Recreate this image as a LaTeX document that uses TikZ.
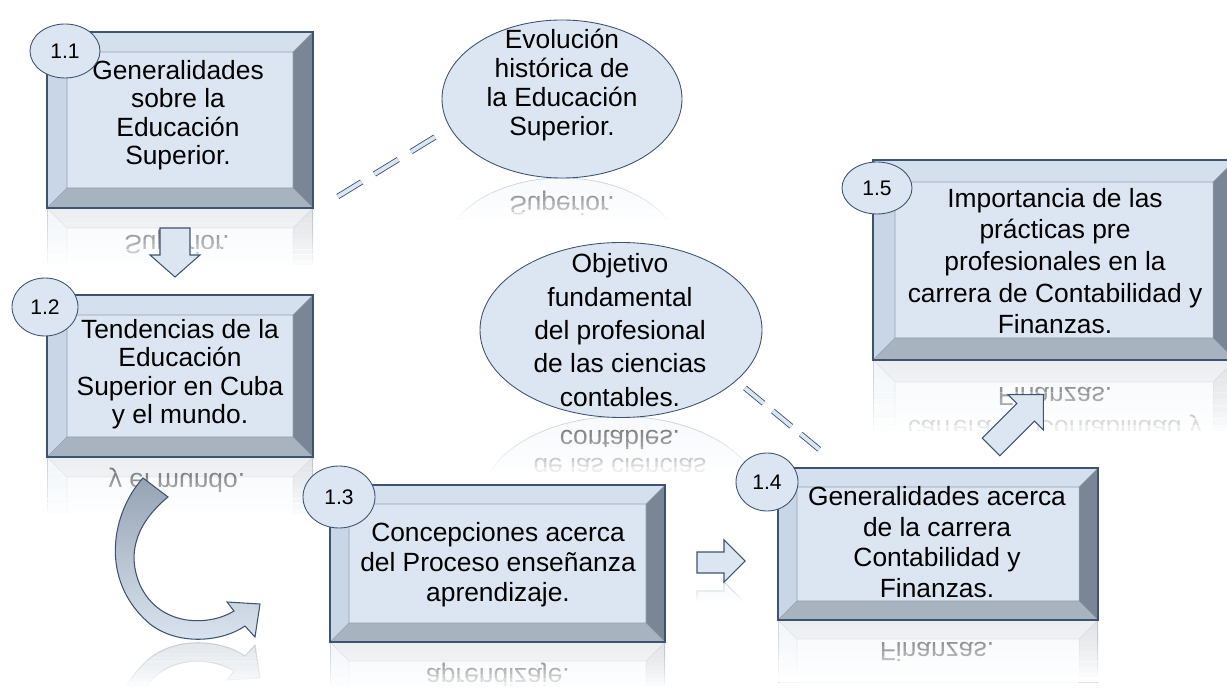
\documentclass[tikz,border=0pt]{standalone}
\usepackage{fontspec}
\setmainfont{Liberation Sans}
\usetikzlibrary{shapes.geometric}

\definecolor{face}{RGB}{220,230,242}
\definecolor{bevtopc}{RGB}{212,224,238}
\definecolor{bevleftc}{RGB}{200,214,231}
\definecolor{bevbotc}{RGB}{168,179,192}
\definecolor{bevrightc}{RGB}{122,134,149}
\definecolor{linec}{RGB}{62,84,110}
\definecolor{ribbon}{RGB}{150,163,179}

\tikzset{
  boxtext/.style={align=center, inner sep=0pt, font=\fontsize{15}{16.2}\selectfont},
  badge/.style={ellipse, draw=linec, fill=face, line width=0.5pt, inner sep=0pt,
    font=\fontsize{12}{14}\selectfont},
  bubble/.style={ellipse, draw=linec, fill=face, line width=0.5pt, inner sep=0pt},
  blockarrow/.style={draw=linec, fill=face, line width=0.6pt, line join=miter},
  dashlink/.style={draw=linec, line width=0.5pt, double=face, double distance=2.2pt},
  ghost/.style={boxtext, text opacity=0.55}
}

% bevelled box: x1, y1, x2, y2, bevel
\newcommand{\bevbox}[5]{%
  \fill[face] (#1+#5,#2+#5) rectangle (#3-#5,#4-#5);
  \fill[bevtopc] (#1,#2) -- (#3,#2) -- (#3-#5,#2+#5) -- (#1+#5,#2+#5) -- cycle;
  \fill[bevleftc] (#1,#2) -- (#1+#5,#2+#5) -- (#1+#5,#4-#5) -- (#1,#4) -- cycle;
  \fill[bevbotc] (#1,#4) -- (#1+#5,#4-#5) -- (#3-#5,#4-#5) -- (#3,#4) -- cycle;
  \fill[bevrightc] (#3,#2) -- (#3-#5,#2+#5) -- (#3-#5,#4-#5) -- (#3,#4) -- cycle;
  \draw[linec!55, line width=0.3pt] (#1+#5,#2+#5) rectangle (#3-#5,#4-#5)
    (#1,#2) -- (#1+#5,#2+#5) (#3,#2) -- (#3-#5,#2+#5)
    (#1,#4) -- (#1+#5,#4-#5) (#3,#4) -- (#3-#5,#4-#5);
  \draw[linec, line width=0.6pt] (#1,#2) rectangle (#3,#4);
}

% the bent arrow from 1.2 down to 1.3
\newcommand{\bentarrow}{%
  \draw[blockarrow, top color=ribbon, bottom color=face]
    (143,478) .. controls (112,512) and (98,580) .. (150,624)
    .. controls (178,646) and (222,642) .. (245,626)
    -- (255,637) -- (260,604) -- (227,602) -- (234,611)
    .. controls (210,626) and (160,628) .. (140,585)
    .. controls (125,550) and (140,520) .. (168,497) -- cycle;
}

% faint mirror image below a shape: x1, x2, axis, band, content
\newcommand{\mirror}[5]{%
  \begin{scope}
    \clip (#1,#3) rectangle (#2,#3+#4);
    \begin{scope}[shift={(0,2*#3)}, yscale=-1, transform shape, opacity=0.22]
      #5
    \end{scope}
  \end{scope}
  \foreach \i in {1,...,12} {
    \pgfmathsetmacro\op{(\i/12)^1.6}
    \fill[white, opacity=\op] (#1-1,{#3+#4*(\i-1)/12}) rectangle (#2+1,{#3+#4*\i/12+0.3});
  }
}

\begin{document}
\begin{tikzpicture}[x=0.2mm,y=-0.2mm]
\useasboundingbox (0,0) rectangle (1227,690);

% reflections
\mirror{47}{313}{208}{62}{\bevbox{47}{32}{313}{208}{20}
  \node[ghost] at (177,174) {Superior.};}
\mirror{47}{313}{457}{62}{\bevbox{47}{295}{313}{457}{20}
  \node[ghost] at (177,434) {y el mundo.};}
\mirror{330}{665}{642}{48}{\bevbox{330}{485}{665}{642}{19}
  \node[ghost] at (498,609) {aprendizaje.};}
\mirror{778}{1098}{620}{62}{\bevbox{778}{468}{1098}{620}{19}
  \node[ghost] at (937,588) {Finanzas.};}
\mirror{873}{1227}{360}{78}{\bevbox{873}{160}{1235}{360}{22}
  \node[ghost] at (1055,323) {Finanzas.};
  \node[ghost] at (1055,293) {carrera de Contabilidad y};}
\mirror{440}{685}{178}{46}{\node[bubble, minimum width=48mm, minimum height=31.6mm] at (562,99) {};
  \node[ghost] at (562,153) {Superior.};}
\mirror{478}{764}{417}{60}{\node[bubble, minimum width=56.4mm, minimum height=35mm] at (621,330) {};
  \node[ghost] at (620,394) {contables.};
  \node[ghost] at (620,366) {de las ciencias};}
\mirror{110}{265}{641}{49}{\bentarrow}
\mirror{695}{748}{582}{22}{\draw[blockarrow] (697,552) -- (724,552) -- (724,540) -- (745,561)
  -- (724,582) -- (724,573) -- (697,573) -- cycle;}

% boxes
\bevbox{47}{32}{313}{208}{20}
\node[boxtext] (b11) at (178,115) {Generalidades\\sobre la\\Educación\\Superior.};
\bevbox{47}{295}{313}{457}{20}
\node[boxtext] (b12) at (180,374) {Tendencias de la\\Educación\\Superior en Cuba\\y el mundo.};
\bevbox{330}{485}{665}{642}{19}
\node[boxtext, font=\fontsize{15}{17}\selectfont] (b13) at (498,565)
  {Concepciones acerca\\del Proceso enseñanza\\aprendizaje.};
\bevbox{778}{468}{1098}{620}{19}
\node[boxtext, font=\fontsize{15}{17.4}\selectfont] (b14) at (937,542)
  {Generalidades acerca\\de la carrera\\Contabilidad y\\Finanzas.};
\bevbox{873}{160}{1235}{360}{22}
\node[boxtext, font=\fontsize{15}{18}\selectfont] (b15) at (1055,261)
  {Importancia de las\\prácticas pre\\profesionales en la\\carrera de Contabilidad y\\Finanzas.};

% bubbles
\node[bubble, minimum width=48mm, minimum height=31.6mm] (evol) at (562,99) {};
\node[boxtext, font=\fontsize{15}{16.4}\selectfont] (evoltxt) at (562,85)
  {Evolución\\histórica de\\la Educación\\Superior.};
\node[bubble, minimum width=56.4mm, minimum height=35mm] (obj) at (621,330) {};
\node[boxtext, font=\fontsize{15}{19}\selectfont] (objtxt) at (620,330)
  {Objetivo\\fundamental\\del profesional\\de las ciencias\\contables.};

% badges
\node[badge, minimum width=14mm, minimum height=10.8mm] (n11) at (65,51) {1.1};
\node[badge, minimum width=13.2mm, minimum height=11.6mm] (n12) at (45,307) {1.2};
\node[badge, minimum width=14.4mm, minimum height=12.4mm] (n13) at (339,497) {1.3};
\node[badge, minimum width=12.4mm, minimum height=11.6mm] (n14) at (767,482) {1.4};
\node[badge, minimum width=14mm, minimum height=10.4mm] (n15) at (877,188) {1.5};

% dashed links
\coordinate (d1a) at (435,137);
\coordinate (d1b) at (337,197);
\draw[dashlink, dash pattern=on 15.9pt off 8.6pt] (d1a) -- (d1b);
\coordinate (d2a) at (745,388);
\coordinate (d2b) at (820,450);
\draw[dashlink, dash pattern=on 13.6pt off 7pt] (d2a) -- (d2b);

% block arrows
\draw[blockarrow] (160,228) -- (190,228) -- (190,255) -- (200,255) -- (175,277)
  -- (150,255) -- (160,255) -- cycle;
\bentarrow
\draw[blockarrow] (697,552) -- (724,552) -- (724,540) -- (745,561)
  -- (724,582) -- (724,573) -- (697,573) -- cycle;
\begin{scope}[shift={(991,447)}, rotate=45]
  \draw[blockarrow] (0,-12.5) -- (49,-12.5) -- (49,-25) -- (74,0)
    -- (49,25) -- (49,12.5) -- (0,12.5) -- cycle;
\end{scope}
\end{tikzpicture}
\end{document}
